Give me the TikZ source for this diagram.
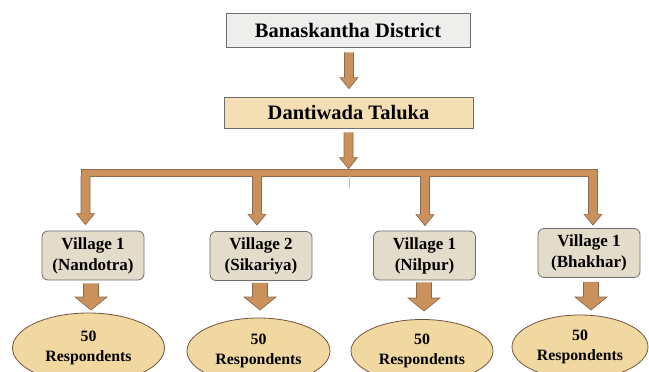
\documentclass[tikz,border=0pt]{standalone}
\usepackage{fontspec}
\setmainfont{Liberation Serif}
\usetikzlibrary{shapes.geometric,calc}
\definecolor{distfill}{HTML}{EEEEEC}
\definecolor{talfill}{HTML}{F4DFB4}
\definecolor{vilfill}{HTML}{E4DCCB}
\definecolor{elfill}{HTML}{F1D7A0}
\definecolor{arrfill}{HTML}{CB915D}
\definecolor{arrline}{HTML}{8C6A4E}
\definecolor{boxline}{HTML}{6E6E6E}
\tikzset{
  topbox/.style={draw=boxline, line width=0.8pt, rectangle, inner sep=0pt,
    font=\fontsize{20.5}{24}\selectfont\bfseries},
  vilbox/.style={draw=boxline, line width=0.8pt, fill=vilfill, rectangle, rounded corners=6pt,
    minimum width=102pt, minimum height=49pt, inner sep=0pt, align=center,
    font=\fontsize{17}{21}\selectfont\bfseries},
  resp/.style={draw=arrline!80!black, line width=0.8pt, fill=elfill, ellipse, inner sep=0pt,
    align=center, font=\fontsize{15.8}{20}\selectfont\bfseries},
  barbox/.style={draw=arrline, line width=0.7pt, fill=arrfill, rectangle, inner sep=0pt},
  arrowfillstyle/.style={fill=arrfill},
  arrowlinestyle/.style={draw=arrline, line width=0.7pt, line join=miter}
}
% #1 start, #2 tip, #3 half shaft width, #4 half head width, #5 head length
\newcommand{\blockarrow}[5]{%
  \path[arrowfillstyle] let \p1=(#1), \p2=(#2) in
    (\x1-#3,\y1) -- (\x1+#3,\y1) -- (\x1+#3,\y2+#5) -- (\x1+#4,\y2+#5) --
    (\x1,\y2) -- (\x1-#4,\y2+#5) -- (\x1-#3,\y2+#5) -- cycle;
  \draw[arrowlinestyle] let \p1=(#1), \p2=(#2) in
    (\x1-#3,\y1) -- (\x1-#3,\y2+#5) -- (\x1-#4,\y2+#5) -- (\x1,\y2) --
    (\x1+#4,\y2+#5) -- (\x1+#3,\y2+#5) -- (\x1+#3,\y1);
}
\begin{document}
\begin{tikzpicture}[x=1pt, y=-1pt]
\useasboundingbox (0,0) rectangle (649,372);

% top boxes
\node[topbox, fill=distfill, minimum width=244pt, minimum height=34pt] (dist) at (348,30) {Banaskantha District};
\node[topbox, fill=talfill, minimum width=249pt, minimum height=31pt] (tal) at (348.5,112.5) {Dantiwada Taluka};

% bar
\node[barbox, minimum width=516.5pt, minimum height=7pt] (bar) at (339.25,172.5) {};

% villages
\node[vilbox] (v1) at (93,255.5) {Village 1\\(Nandotra)};
\node[vilbox] (v2) at (261,256) {Village 2\\(Sikariya)};
\node[vilbox] (v3) at (424.5,255.5) {Village 1\\(Nilpur)};
\node[vilbox] (v4) at (589,253) {Village 1\\(Bhakhar)};

% respondents
\node[resp, minimum width=152pt, minimum height=70pt] (e1) at (88.5,348) {50\\Respondents};
\node[resp, minimum width=143pt, minimum height=66pt] (e2) at (258.5,351) {50\\Respondents};
\node[resp, minimum width=142pt, minimum height=63pt] (e3) at (422,351) {50\\Respondents};
\node[resp, minimum width=136pt, minimum height=64pt] (e4) at (580,347) {50\\Respondents};

% arrow district -> taluka
\coordinate (a1s) at ($(dist.south)+(1,5)$);
\coordinate (a1e) at ($(a1s |- tal.north)+(0,-8)$);
\blockarrow{a1s}{a1e}{4.5pt}{9pt}{11pt}

% arrow taluka -> bar
\coordinate (a2s) at ($(tal.south)+(0,4)$);
\coordinate (a2e) at (a2s |- bar.north);
\blockarrow{a2s}{a2e}{4.5pt}{9pt}{11pt}

% thin mark below bar
\coordinate (g1) at (349,176);
\draw[gray!45, line width=0.6pt] (g1) -- ++(0,12);

% drops from bar to villages
\coordinate (d1s) at (85.5,175.5);
\coordinate (d2s) at (257,175.5);
\coordinate (d3s) at (425,175.5);
\coordinate (d4s) at (593,175.5);
\coordinate (d1e) at ($(d1s |- v1.north)+(0,-6)$);
\coordinate (d2e) at ($(d2s |- v2.north)+(0,-6)$);
\coordinate (d3e) at ($(d3s |- v3.north)+(0,-5)$);
\coordinate (d4e) at ($(d4s |- v4.north)+(0,-3)$);
\blockarrow{d1s}{d1e}{4.5pt}{9pt}{11pt}
\blockarrow{d2s}{d2e}{4.5pt}{9pt}{11pt}
\blockarrow{d3s}{d3e}{4.5pt}{9pt}{11pt}
\blockarrow{d4s}{d4e}{4.5pt}{9pt}{11pt}

% fat arrows villages -> respondents
\coordinate (f1s) at ($(v1.south)+(-2,3)$);
\coordinate (f2s) at ($(v2.south)+(-1,2)$);
\coordinate (f3s) at ($(v3.south)+(-0.5,2)$);
\coordinate (f4s) at ($(v4.south)+(2,4)$);
\coordinate (f1e) at (f1s |- 0,310);
\coordinate (f2e) at (f2s |- 0,310);
\coordinate (f3e) at (f3s |- 0,311);
\coordinate (f4e) at (f4s |- 0,310);
\blockarrow{f1s}{f1e}{7.5pt}{16pt}{13pt}
\blockarrow{f2s}{f2e}{7.5pt}{16pt}{13pt}
\blockarrow{f3s}{f3e}{7.5pt}{16pt}{13pt}
\blockarrow{f4s}{f4e}{7.5pt}{16pt}{13pt}
\end{tikzpicture}
\end{document}
